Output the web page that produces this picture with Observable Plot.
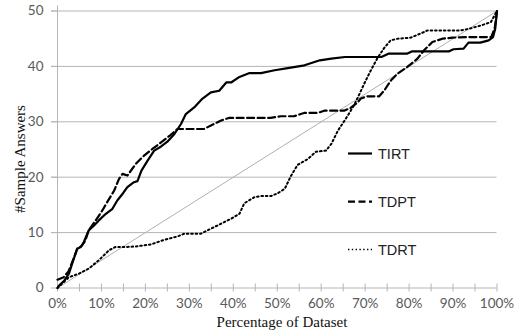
<!DOCTYPE html>
<html><head><meta charset="utf-8">
<script src="https://cdn.jsdelivr.net/npm/d3@7"></script>
<script src="https://cdn.jsdelivr.net/npm/@observablehq/plot@0.6"></script>
<style>body{margin:0;background:#fff}</style>
</head><body><div id="chart"></div>
<script>
// ---- data ----
const seriesNames = ["TIRT", "TDPT", "TDRT"];

const tirtX = [0, 0.3, 1.5, 2.6, 3.5, 4.5, 5.3, 6, 7.1, 8.2, 9.4, 11, 12.5, 13.6, 15, 15.9, 17.4, 18.2, 19.1, 20.5, 22, 23.5, 25, 26.6, 28.1, 29.2, 31.1, 33, 34.9, 36.8, 38.4, 39.5, 41.4, 43.7, 46.3, 49.4, 52.4, 56.2, 59.7, 62.3, 65.4, 73.7, 75.3, 79.5, 80.6, 89, 90.1, 92.4, 93.5, 96.2, 98.1, 99.1, 99.6, 100];
const tirtY = [0, 0.4, 1.3, 2.6, 4.8, 7.1, 7.4, 8.3, 10.4, 11.2, 12.2, 13.4, 14.3, 15.8, 17.2, 18.2, 19.1, 19.3, 21.2, 23.0, 24.8, 25.5, 26.4, 27.8, 29.6, 31.4, 32.6, 34.2, 35.3, 35.6, 37.1, 37.1, 38.1, 38.8, 38.8, 39.3, 39.7, 40.2, 41.1, 41.4, 41.7, 41.7, 42.3, 42.3, 42.7, 42.7, 43.1, 43.2, 44.3, 44.3, 44.7, 45.3, 46.8, 50];

const tdptX = [0, 1.4, 2.5, 3.5, 4.5, 5.5, 6.3, 7.1, 8.7, 10.2, 11.3, 12.9, 14, 14.8, 15.9, 17.8, 19.7, 21.6, 23.1, 25.7, 27.3, 33.3, 35.6, 37.1, 39, 48.5, 50.8, 53.8, 56.1, 59.2, 60.7, 65.2, 66.7, 68.3, 69, 70.5, 73.2, 74.3, 75.9, 77.4, 79.6, 81.9, 83.4, 85.3, 87.6, 89.9, 94.1, 98.7, 99.5, 100];
const tdptY = [1.5, 1.95, 3, 5, 7.1, 7.6, 8.5, 10.4, 12.2, 14, 15.5, 17.6, 19.7, 20.6, 20.3, 22.4, 23.9, 25.1, 26, 27.6, 28.7, 28.7, 29.6, 30.2, 30.7, 30.7, 31.0, 31.0, 31.6, 31.6, 32.0, 32.0, 32.5, 33.5, 34.2, 34.6, 34.6, 35.6, 37.5, 38.7, 39.9, 41.4, 42.9, 44.4, 45, 45.2, 45.3, 45.3, 47, 50];

const tdrtX = [0, 2.6, 4.9, 7.1, 9.4, 11.7, 13.2, 15.5, 17.8, 21.2, 24.3, 27.3, 28.8, 32.6, 34.9, 37.2, 39.5, 41.4, 42.5, 44.8, 46.3, 48.6, 50.1, 51.7, 53.1, 54.6, 57, 58.8, 61.1, 62.3, 63.8, 65.3, 66.5, 67.6, 68.7, 69.8, 71.3, 72.8, 74.3, 75.8, 77.4, 80.4, 83.4, 84.2, 91.8, 93.7, 96.4, 98.6, 100];
const tdrtY = [0, 1.95, 2.6, 3.5, 5, 6.8, 7.4, 7.4, 7.5, 7.85, 8.7, 9.3, 9.8, 9.8, 10.7, 11.6, 12.5, 13.4, 15.3, 16.4, 16.6, 16.6, 17.1, 17.9, 20.2, 22.2, 23.3, 24.6, 24.8, 26, 28.4, 30.2, 31.7, 33.2, 35, 36.9, 39.3, 41.5, 43.3, 44.7, 45, 45.2, 46.2, 46.5, 46.5, 46.8, 47.4, 48, 50];

const diagX = [0, 100];
const diagY = [0, 50];

const xTickValues = [0, 10, 20, 30, 40, 50, 60, 70, 80, 90, 100];
const xMinorTicks = [0, 5, 10, 15, 20, 25, 30, 35, 40, 45, 50, 55, 60, 65, 70, 75, 80, 85, 90, 95, 100];
const yTickValues = [0, 10, 20, 30, 40, 50];

const xTitle = "Percentage of Dataset";
const yTitle = "#Sample Answers";

// ---- build ----
const toRows = (name, xs, ys) => xs.map((x, i) => ({series: name, x, y: ys[i]}));
const data = {
  TIRT: toRows("TIRT", tirtX, tirtY),
  TDPT: toRows("TDPT", tdptX, tdptY),
  TDRT: toRows("TDRT", tdrtX, tdrtY)
};
const diag = toRows("diag", diagX, diagY);
const lineStyle = {
  TIRT: {strokeWidth: 2.2, strokeDasharray: null},
  TDPT: {strokeWidth: 2.2, strokeDasharray: "7,3.5"},
  TDRT: {strokeWidth: 2, strokeDasharray: "1.6,2.8"}
};
const gridColor = "#b5b5b5";

const svg = Plot.plot({
  width: 518, height: 333,
  marginLeft: 57, marginRight: 21.5, marginTop: 10.5, marginBottom: 45.5,
  style: {background: "#fff", fontFamily: "Lato", fontSize: "13.5px", color: "#595959", overflow: "visible"},
  x: {domain: [0, 100]},
  y: {domain: [0, 50]},
  marks: [
    Plot.gridY(yTickValues.slice(1), {stroke: gridColor, strokeOpacity: 1, insetLeft: -6}),
    Plot.ruleX([0], {stroke: gridColor, insetTop: -5}),
    Plot.ruleY([0], {stroke: gridColor}),
    Plot.axisY({ticks: yTickValues, tickSize: 6, tickPadding: 8, stroke: gridColor, fill: "#595959", label: null}),
    Plot.axisX({ticks: xMinorTicks, tickSize: 8, dy: -4, text: null, label: null, stroke: gridColor}),
    Plot.axisX({ticks: xTickValues, tickSize: 0, tickPadding: 10, tickFormat: d => d + "%", label: null, fill: "#595959"}),
    Plot.line(diag, {x: "x", y: "y", stroke: "#b0b0b0", strokeWidth: 1}),
    ...seriesNames.map(n => Plot.line(data[n], {x: "x", y: "y", stroke: "#000", strokeWidth: lineStyle[n].strokeWidth, strokeDasharray: lineStyle[n].strokeDasharray, strokeLinejoin: "round"}))
  ]
});

const s = d3.select(svg);
s.append("text").attr("x", 282).attr("y", 327).attr("text-anchor", "middle")
  .style("font-family", "'Liberation Serif', 'DejaVu Serif', serif").style("font-size", "15px").attr("fill", "#111").text(xTitle);
s.append("text").attr("transform", "translate(24.5,159) rotate(-90)").attr("text-anchor", "middle")
  .style("font-family", "'Liberation Serif', 'DejaVu Serif', serif").style("font-size", "15px").attr("fill", "#111").text(yTitle);

// legend
const legendY = [153.5, 201.7, 249.5];
const lg = s.append("g");
seriesNames.forEach((n, i) => {
  lg.append("line").attr("x1", 348).attr("x2", 372).attr("y1", legendY[i]).attr("y2", legendY[i])
    .attr("stroke", "#000").attr("stroke-width", n === "TDRT" ? 1.6 : lineStyle[n].strokeWidth)
    .attr("stroke-dasharray", n === "TDRT" ? "1.4,2.4" : lineStyle[n].strokeDasharray);
  lg.append("text").attr("x", 378).attr("y", legendY[i]).attr("dy", "0.36em").attr("text-anchor", "start")
    .style("font-family", "'Liberation Sans', Arial, sans-serif").style("font-size", "14.5px").attr("fill", "#222").text(n);
});

document.getElementById("chart").appendChild(svg);
</script>
</body></html>
